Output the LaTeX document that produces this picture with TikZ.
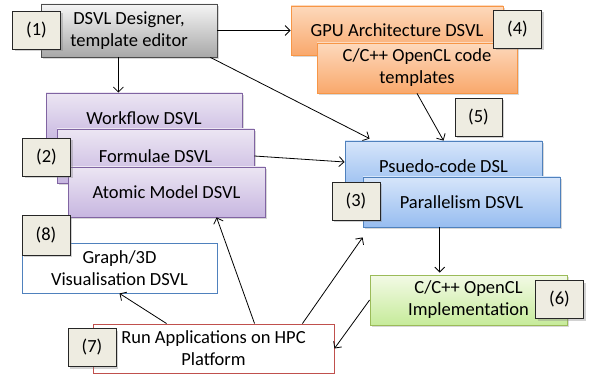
\documentclass[tikz,border=0pt]{standalone}
\usepackage{fontspec}
\setmainfont{Carlito}
\usetikzlibrary{arrows.meta,shadows,calc}
\definecolor{grayT}{HTML}{F5F5F5}
\definecolor{grayB}{HTML}{A8A8A8}
\definecolor{grayL}{HTML}{4D4D4D}
\definecolor{orT}{HTML}{FDD9BC}
\definecolor{orB}{HTML}{F9A86C}
\definecolor{orL}{HTML}{F79646}
\definecolor{puT}{HTML}{ECE6F3}
\definecolor{puB}{HTML}{C7B6E0}
\definecolor{puL}{HTML}{8064A2}
\definecolor{blT}{HTML}{D6E5FA}
\definecolor{blB}{HTML}{97BDF0}
\definecolor{blL}{HTML}{4F81BD}
\definecolor{grT}{HTML}{F3FAE6}
\definecolor{grB}{HTML}{C6EB9A}
\definecolor{grL}{HTML}{9BBB59}
\definecolor{rdL}{HTML}{C0504D}
\definecolor{tagF}{HTML}{EEECE1}
\definecolor{tagL}{HTML}{262626}
\begin{document}
\begin{tikzpicture}[x=1pt,y=-1pt,
  font=\fontsize{18.5}{22}\selectfont,
  box/.style={draw,line width=0.8pt,align=center,inner sep=0pt,
    drop shadow={shadow xshift=2pt,shadow yshift=-2pt,opacity=0.3}},
  graybox/.style={box,draw=grayL,top color=grayT,bottom color=grayB},
  orbox/.style={box,draw=orL,top color=orT,bottom color=orB},
  pubox/.style={box,draw=puL,top color=puT,bottom color=puB},
  blbox/.style={box,draw=blL,top color=blT,bottom color=blB},
  grbox/.style={box,draw=grL,top color=grT,bottom color=grB},
  plainbox/.style={draw,line width=0.9pt,fill=white,align=center,inner sep=0pt},
  tag/.style={draw=tagL,line width=0.9pt,fill=tagF,inner sep=0pt,
    minimum width=48pt,minimum height=38pt,
    drop shadow={shadow xshift=2pt,shadow yshift=-2pt,opacity=0.35}},
  arr/.style={line width=0.8pt,-{Straight Barb[length=5pt,width=10pt]}}
]
\useasboundingbox[fill=white] (0,0) rectangle (589,374);

% (1) designer
\node[graybox,minimum width=176pt,minimum height=53pt] (des) at (129,30.5) {DSVL Designer,\\template editor};
\node[tag] (l1) at (36.5,30) {(1)};

% (4),(5) GPU
\node[orbox,minimum width=212pt,minimum height=49pt] (gpu) at (397,30.5) {GPU Architecture DSVL};
\node[orbox,minimum width=200pt,minimum height=50pt] (tmpl) at (417,68) {C/C++ OpenCL code\\templates};
\node[tag] (l4) at (517.5,29) {(4)};
\node[tag,minimum width=47pt] (l5) at (478.5,117) {(5)};

% (2) DSVLs
\node[pubox,minimum width=196pt,minimum height=50pt] (wf) at (144,118) {Workflow DSVL};
\node[pubox,minimum width=197pt,minimum height=54pt] (fm) at (155.5,156) {Formulae DSVL};
\node[pubox,minimum width=197pt,minimum height=50pt] (atm) at (166.5,192) {Atomic Model DSVL};
\node[tag] (l2) at (46.5,157.5) {(2)};

% (3) pseudo code
\node[blbox,minimum width=197pt,minimum height=50pt] (ps) at (443.5,166) {Psuedo-code DSL};
\node[blbox,minimum width=197pt,minimum height=50pt] (par) at (461.5,202) {Parallelism DSVL};
\node[tag] (l3) at (356,201.5) {(3)};

% (6) implementation
\node[grbox,minimum width=197pt,minimum height=50pt] (grn) at (468.5,300) {C/C++ OpenCL\\Implementation};
\node[tag] (l6) at (559.5,299.5) {(6)};

% (8) visualisation
\node[plainbox,draw=blL,minimum width=195pt,minimum height=50pt] (vis) at (119.5,268) {Graph/3D\\Visualisation DSVL};
\node[tag,minimum height=40pt] (l8) at (46,235) {(8)};

% (7) run
\node[plainbox,draw=rdL,minimum width=241pt,minimum height=49pt] (run) at (213.5,348.5) {Run Applications on HPC\\Platform};
\node[tag] (l7) at (92,347.5) {(7)};

% connectors
\draw[arr] (des.east) -- (gpu.west);
\draw[arr] ($(des.south west)!0.44!(des.south east)$) coordinate (d1) -- (d1 |- wf.north);
\draw[arr] ($(des.south east)+(-7,0)$) -- ($(ps.north west)+(25,-2)$);
\draw[arr] (tmpl.south) -- (ps.north);
\draw[arr] (fm.east) -- ($(ps.west)+(0,-4)$);
\draw[arr] ($(par.south west)!0.39!(par.south east)$) coordinate (p1) -- ($(p1 |- grn.north)+(0,-2)$);
\draw[arr] (grn.west) -- (run.east);
\draw[arr] ($(run.north east)+(-32,0)$) -- ($(par.south west)+(0,10)$);
\draw[arr] ($(run.north west)+(162,0)$) -- ($(atm.south west)+(149,0)$);
\draw[arr] ($(run.north west)+(74,0)$) -- (vis.south);
\end{tikzpicture}
\end{document}
